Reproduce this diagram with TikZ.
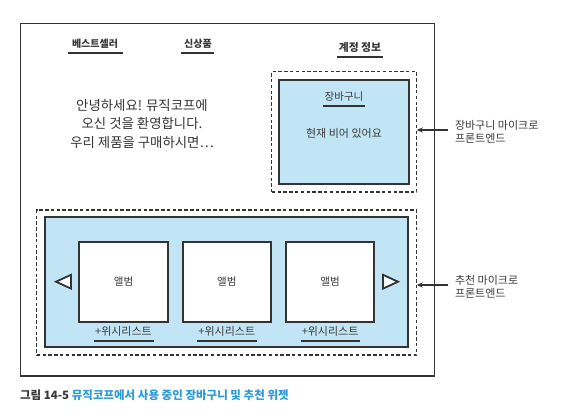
\documentclass[tikz,border=0pt]{standalone}
\usepackage{fontspec}
\setmainfont{Noto Sans CJK KR}
\usetikzlibrary{arrows.meta}
\definecolor{ink}{HTML}{333333}
\definecolor{txt}{HTML}{3A3A3A}
\definecolor{paneblue}{HTML}{C2E5F6}
\definecolor{capblue}{HTML}{2C9AD6}
\begin{document}
\begin{tikzpicture}[x=1pt,y=-1pt,
  every node/.style={text=txt, inner sep=0pt, outer sep=0pt},
  navlbl/.style={font=\fontsize{10}{12}\selectfont\bfseries},
  lbl/.style={font=\fontsize{10.5}{12}\selectfont},
  sidelbl/.style={font=\fontsize{11}{13}\selectfont, align=left, anchor=west},
  uline/.style={draw=ink, line width=1.4pt},
  dashbox/.style={draw=ink, line width=1.3pt, dash pattern=on 3.5pt off 2.3pt},
  bluebox/.style={draw=ink, fill=paneblue, line width=1.8pt},
  albumbox/.style={draw=ink, fill=white, line width=1.8pt, minimum width=88.4pt, minimum height=80.6pt},
  tri/.style={draw=ink, fill=white, line width=1.8pt, line join=miter},
  ptr/.style={draw=ink, line width=1.4pt, -{Stealth[length=6pt,width=5pt]}}
]
\useasboundingbox (0,0) rectangle (564,417);
\fill[white] (0,0) rectangle (564,417);

% outer page
\node[draw=ink, line width=1.3pt, minimum width=414pt, minimum height=352.7pt] (page) at (227.7,199.65) {};

% navigation
\node[navlbl] (best) at (95,43.5) {베스트셀러};
\draw[uline] (68,53) -- (123,53);
\node[navlbl] (new) at (198,43.5) {신상품};
\draw[uline] (181,53) -- (214,53);
\node[navlbl, font=\fontsize{10.8}{12}\selectfont\bfseries] (acct) at (360,47.5) {계정 정보};
\draw[uline] (337,57) -- (383,57);

% welcome
\node[font=\fontsize{13.4}{18.5}\selectfont, align=center, text=ink] (welcome) at (142,123.5)
  {안녕하세요! 뮤직코프에\\오신 것을 환영합니다.\\우리 제품을 구매하시면…};

% cart micro frontend
\node[dashbox, minimum width=145pt, minimum height=120.3pt] (cartwrap) at (344.2,131.85) {};
\node[bluebox, minimum width=130pt, minimum height=104pt] (cart) at (344,132) {};
\node[lbl] (carttitle) at (344,97) {장바구니};
\draw[uline] (322.7,106) -- (365,106);
\node[lbl, font=\fontsize{11}{12}\selectfont] (cartempty) at (344,133) {현재 비어 있어요};

\node[sidelbl] (cartlbl) at (455,131.5) {장바구니 마이크로\\프론트엔드};
\coordinate (cartsrc) at ([xshift=-7pt,yshift=1.5pt]cartlbl.west);
\draw[ptr] (cartsrc) -- (cartsrc -| cartwrap.east);

% recommendation micro frontend
\node[dashbox, minimum width=380pt, minimum height=145pt] (recwrap) at (226.7,282.5) {};
\node[bluebox, minimum width=363pt, minimum height=130pt] (rec) at (226.5,281.7) {};

\node[albumbox] (alb1) at (123.5,282) {};
\node[albumbox] (alb2) at (226.8,282) {};
\node[albumbox] (alb3) at (330.1,282) {};
\node[lbl] (alb1t) at (alb1) {앨범};
\node[lbl] (alb2t) at (alb2) {앨범};
\node[lbl] (alb3t) at (alb3) {앨범};

\node[lbl, font=\fontsize{11}{12}\selectfont] (wish1) at (123.5,331) {+위시리스트};
\node[lbl, font=\fontsize{11}{12}\selectfont] (wish2) at (226.8,331) {+위시리스트};
\node[lbl, font=\fontsize{11}{12}\selectfont] (wish3) at (330.1,331) {+위시리스트};
\draw[uline] (94,341) -- (153.5,341);
\draw[uline] (197.3,341) -- (256.8,341);
\draw[uline] (300.6,341) -- (360.1,341);

\draw[tri] (56,281.7) -- (71,274.8) -- (71,288.6) -- cycle;
\draw[tri] (398,281.7) -- (383,274.8) -- (383,288.6) -- cycle;

\node[sidelbl] (reclbl) at (455,286.5) {추천 마이크로\\프론트엔드};
\coordinate (recsrc) at ([xshift=-7pt,yshift=1.5pt]reclbl.west);
\draw[ptr] (recsrc) -- (recsrc -| recwrap.east);

% caption
\node[anchor=west, font=\fontsize{11.5}{13}\selectfont\bfseries] (caption) at (20,395)
  {\textcolor{txt}{그림 14-5} \textcolor{capblue}{뮤직코프에서 사용 중인 장바구니 및 추천 위젯}};
\end{tikzpicture}
\end{document}
